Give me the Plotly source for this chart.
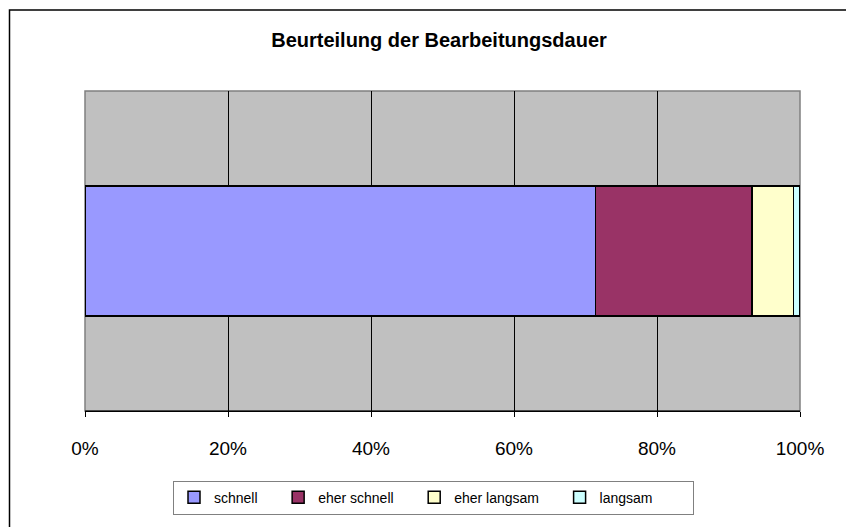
import plotly.graph_objects as go

categories = ["Beurteilung"]
series_names = ["schnell", "eher schnell", "eher langsam", "langsam"]
series_values = [71.4, 21.9, 5.8, 0.9]
series_colors = ["#9999FF", "#993366", "#FFFFCC", "#CCFFFF"]
tick_vals = [0, 20, 40, 60, 80, 100]
tick_text = ["0%", "20%", "40%", "60%", "80%", "100%"]

W, H = 846, 519
L, R, T, B = 77, 54, 83, 114
PW, PH = W - L - R, H - T - B
PADS = [4, 4, 4, 9]

fig = go.Figure()
for name, val, col, pad in zip(series_names, series_values, series_colors, PADS):
    fig.add_trace(go.Bar(
        y=categories, x=[val], name=name + "\u00a0" * pad, orientation="h",
        marker=dict(color=col, line=dict(color="black", width=1.5)),
        width=0.407, hovertemplate=name + ": %{x}%<extra></extra>",
    ))

fig.update_layout(
    width=W, height=H,
    barmode="stack",
    paper_bgcolor="white",
    plot_bgcolor="#C0C0C0",
    margin=dict(l=L, r=R, t=T, b=B),
    font=dict(family="Liberation Sans, Arial, sans-serif", color="black"),
    title=dict(text="<b>Beurteilung der Bearbeitungsdauer</b>", x=(431 - L) / PW, xref="paper",
               xanchor="center", y=1 - 32 / H, yanchor="middle",
               font=dict(size=20, family="Liberation Sans, Arial, sans-serif")),
    showlegend=True,
    legend=dict(orientation="h", x=(165 - L) / PW, y=-(475 - (T + PH)) / PH,
                xanchor="left", yanchor="top",
                bordercolor="#808080", borderwidth=1, bgcolor="white",
                font=dict(size=14), itemwidth=30, traceorder="normal",
                tracegroupgap=0),
    xaxis=dict(range=[0, 100], tickvals=tick_vals, ticktext=tick_text,
               showgrid=True, gridcolor="black", gridwidth=1,
               ticks="outside", ticklen=5, tickcolor="black",
               showline=True, linecolor="black", linewidth=1,
               tickfont=dict(size=19), ticklabelstandoff=15,
               zeroline=False, fixedrange=True),
    yaxis=dict(range=[-0.5, 0.5], showticklabels=False, showgrid=False,
               zeroline=False, showline=False, ticks="", fixedrange=True),
    shapes=[
        dict(type="rect", xref="paper", yref="paper", x0=0, x1=1, y0=0, y1=1,
             line=dict(color="#808080", width=1.5), layer="below"),
        dict(type="line", xref="paper", yref="paper", x0=0, x1=1, y0=0, y1=0,
             line=dict(color="black", width=1)),
        dict(type="rect", xref="paper", yref="paper",
             x0=-(L - 1.5) / PW, x1=(W + 20 - L) / PW,
             y0=-(H + 20 - T - PH) / PH, y1=1 + (T - 1.5) / PH,
             line=dict(color="black", width=1.5), fillcolor="rgba(0,0,0,0)"),
    ],
)

fig.write_html("out.html")
